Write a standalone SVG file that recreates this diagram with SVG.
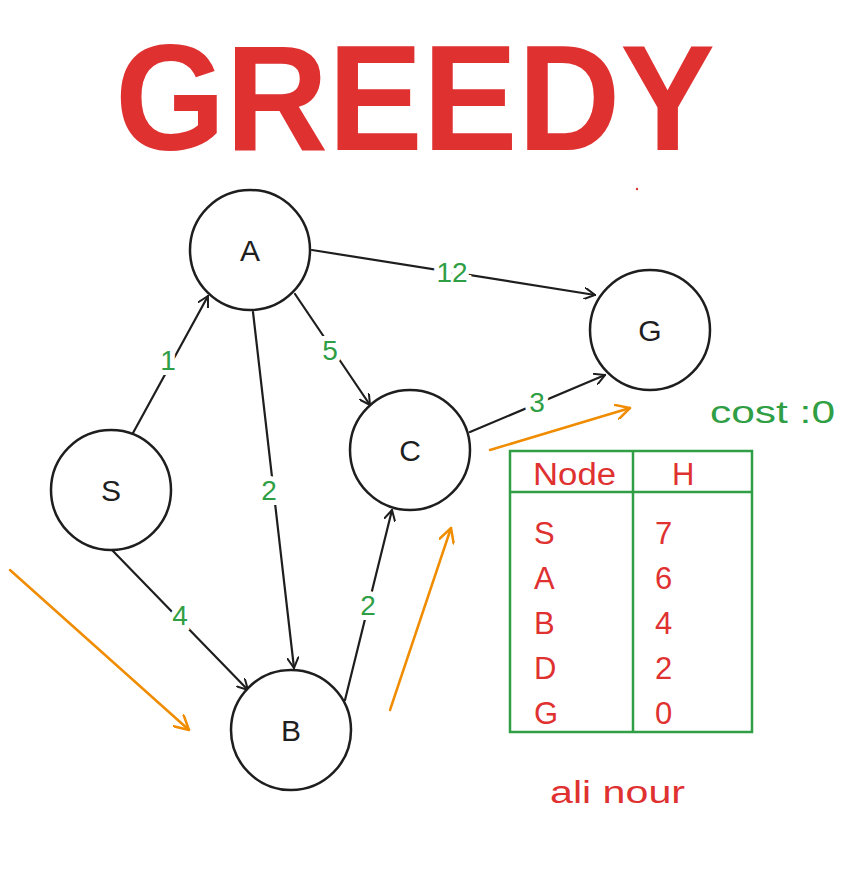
<svg xmlns="http://www.w3.org/2000/svg" width="849" height="870" viewBox="0 0 849 870">
<defs>
<style>
.node circle{fill:#fff;stroke:#1e1e1e;stroke-width:2.5}
.node text{font-family:"Liberation Sans",sans-serif;font-size:30px;fill:#1e1e1e;text-anchor:middle;dominant-baseline:central}
.edge{stroke:#1e1e1e;stroke-width:2.2;fill:none;stroke-linecap:round}
.hl{stroke:#f08c00;stroke-width:2.5;fill:none;stroke-linecap:round}
.lbl{font-family:"Liberation Sans",sans-serif;font-size:28px;fill:#2f9e44;text-anchor:middle;dominant-baseline:central;paint-order:stroke;stroke:#fff;stroke-width:10px}
.red{font-family:"Liberation Sans",sans-serif;font-size:31px;fill:#e03131}
.grn{font-family:"Liberation Sans",sans-serif;font-size:32px;fill:#2f9e44}
.tbl{stroke:#2f9e44;stroke-width:2.5;fill:none}
</style>
<marker id="ah" viewBox="0 0 12 12" refX="11" refY="6" markerWidth="12" markerHeight="12" markerUnits="userSpaceOnUse" orient="auto"><path d="M0,0 L11,6 L0,12" fill="none" stroke="#1e1e1e" stroke-width="2"/></marker>
<marker id="ao" viewBox="0 0 14 14" refX="13" refY="7" markerWidth="16" markerHeight="16" markerUnits="userSpaceOnUse" orient="auto"><path d="M0,0 L13,7 L0,14" fill="none" stroke="#f08c00" stroke-width="2.2"/></marker>
</defs>
<rect width="849" height="870" fill="#fff"/>
<text x="415" y="150" text-anchor="middle" font-family="Liberation Sans,sans-serif" font-weight="bold" font-size="150" textLength="600" lengthAdjust="spacingAndGlyphs" fill="#e03131">GREEDY</text>
<circle cx="637" cy="189" r="1.2" fill="#e03131"/>
<g id="connectors">
<line class="edge" x1="133" y1="433" x2="208" y2="296" marker-end="url(#ah)"/>
<line class="edge" x1="253" y1="312" x2="294" y2="668" marker-end="url(#ah)"/>
<line class="edge" x1="295" y1="294" x2="370" y2="405" marker-end="url(#ah)"/>
<line class="edge" x1="312" y1="250" x2="595" y2="295" marker-end="url(#ah)"/>
<line class="edge" x1="470" y1="432" x2="605" y2="375" marker-end="url(#ah)"/>
<line class="edge" x1="112" y1="550" x2="248" y2="690" marker-end="url(#ah)"/>
<line class="edge" x1="345" y1="700" x2="392" y2="510" marker-end="url(#ah)"/>
<text class="lbl" x="168" y="360">1</text>
<text class="lbl" x="269" y="490">2</text>
<text class="lbl" x="330" y="350">5</text>
<text class="lbl" x="452" y="272">12</text>
<text class="lbl" x="537" y="402">3</text>
<text class="lbl" x="180" y="615">4</text>
<text class="lbl" x="368" y="605">2</text>
<line class="hl" x1="10" y1="570" x2="189" y2="730" marker-end="url(#ao)"/>
<line class="hl" x1="390" y1="710" x2="451" y2="528" marker-end="url(#ao)"/>
<line class="hl" x1="490" y1="450" x2="630" y2="408" marker-end="url(#ao)"/>
</g>
<g id="node-A" class="node"><circle cx="250" cy="250" r="60"/><text x="250" y="250">A</text></g>
<g id="node-S" class="node"><circle cx="111" cy="490" r="60"/><text x="111" y="490">S</text></g>
<g id="node-C" class="node"><circle cx="410" cy="450" r="60"/><text x="410" y="450">C</text></g>
<g id="node-B" class="node"><circle cx="291" cy="730" r="60"/><text x="291" y="730">B</text></g>
<g id="node-G" class="node"><circle cx="650" cy="330" r="60"/><text x="650" y="330">G</text></g>
<text class="grn" x="710" y="423" textLength="125" lengthAdjust="spacingAndGlyphs">cost :0</text>
<g id="table">
<rect class="tbl" x="510" y="451" width="242" height="281"/>
<line class="tbl" x1="510" y1="492" x2="752" y2="492"/>
<line class="tbl" x1="633" y1="451" x2="633" y2="732"/>
<text class="red" x="533" y="485" textLength="83" lengthAdjust="spacingAndGlyphs">Node</text>
<text class="red" x="672" y="485">H</text>
<text class="red" x="534" y="544">S</text><text class="red" x="655" y="544">7</text>
<text class="red" x="534" y="589">A</text><text class="red" x="655" y="589">6</text>
<text class="red" x="534" y="634">B</text><text class="red" x="655" y="634">4</text>
<text class="red" x="534" y="679">D</text><text class="red" x="655" y="679">2</text>
<text class="red" x="534" y="724">G</text><text class="red" x="655" y="724">0</text>
</g>
<text class="red" x="550" y="803" textLength="135" lengthAdjust="spacingAndGlyphs">ali nour</text>
</svg>
